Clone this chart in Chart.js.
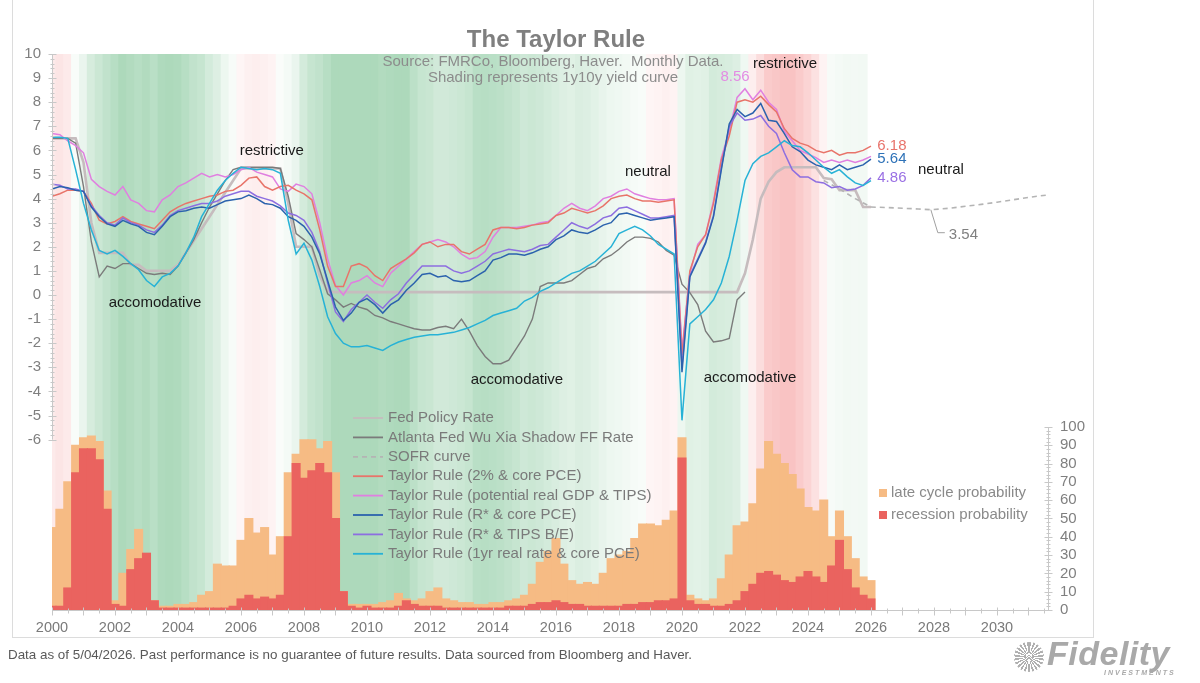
<!DOCTYPE html>
<html lang="en">
<head>
<meta charset="UTF-8">
<title>The Taylor Rule</title>
<script src="https://cdn.jsdelivr.net/npm/chart.js"></script>
<style>
  body { margin: 0; background: #fff; font-family: "Liberation Sans", Arial, sans-serif; }
  .wrap { position: relative; width: 1200px; height: 683px; overflow: hidden; }
  #chart { position: absolute; left: 0; top: 0; }
  .frame { position: absolute; left: 12px; top: -1px; width: 1080px; height: 637px; border: 1px solid #dcdcdc; pointer-events: none; }
  .footer { position: absolute; left: 8px; top: 647px; font-size: 13.4px; color: #595959; }
  .logo { position: absolute; left: 1014px; top: 638px; width: 180px; height: 42px; color: #a9a9a9; }
  .logo .sun { position: absolute; left: 0; top: 4px; width: 30px; height: 30px; border-radius: 50%;
    background: repeating-conic-gradient(#b0b0b0 0deg 8deg, #fff 8deg 16deg); }
  .logo .name { position: absolute; left: 33px; top: -4px; font: italic bold 34px "Liberation Sans", Arial, sans-serif; letter-spacing: 0.5px; }
  .logo .sub { position: absolute; left: 90px; top: 31px; font: italic bold 7px "Liberation Sans", Arial, sans-serif; letter-spacing: 2px; }
</style>
</head>
<body>
<div class="wrap">
  <canvas id="chart" width="1200" height="683"></canvas>
  <div class="frame"></div>
  <div class="footer">Data as of 5/04/2026. Past performance is no guarantee of future results. Data sourced from Bloomberg and Haver.</div>
  <div class="logo"><div class="sun"></div><div class="name">Fidelity</div><div class="sub">INVESTMENTS</div></div>
</div>
<script>
// quarterly observations, first one is Q1 2000
const startYear = 2000;
const stepYears = 0.25;

const fedPolicyRate = [
  6.5, 6.5, 6.5, 6.5,   5.5, 3.0, 1.75, 1.75,   1.75, 1.75, 1.25, 1.25,   1.0, 1.0, 1.0, 1.0,
  1.25, 1.75, 2.25, 2.75,   3.25, 3.75, 4.25, 4.75,   5.25, 5.25, 5.25, 5.25,   5.25, 5.25, 3.8, 2.0,
  2.0, 2.0, 0.8, 0.15,
  0.12, 0.12, 0.12, 0.12,   0.12, 0.12, 0.12, 0.12,   0.12, 0.12, 0.12, 0.12,   0.12, 0.12, 0.12, 0.12,
  0.12, 0.12, 0.12, 0.12,   0.12, 0.12, 0.12, 0.12,   0.12, 0.12, 0.12, 0.12,   0.12, 0.12, 0.12, 0.12,
  0.12, 0.12, 0.12, 0.12,   0.12, 0.12, 0.12, 0.12,   0.12, 0.12, 0.12, 0.12,   0.12, 0.12, 0.12, 0.12,
  0.12, 0.12, 0.12, 0.12,
  0.9, 2.3, 4.0, 4.7,   5.1, 5.3, 5.3, 5.3,   5.3, 5.3, 4.85, 4.8,   4.35, 4.35, 4.35, 3.65,
  3.65
];

const wuXiaShadowRate = [
  6.5, 6.5, 6.5, 6.3,   4.5, 2.2, 0.75, 1.2,   1.1, 1.3, 1.3, 1.1,   0.9, 0.85, 0.9, 0.85,
  1.2, 1.75, 2.3, 3.0,   3.65, 4.2, 4.75, 5.2,   5.3, 5.3, 5.3, 5.3,   5.3, 5.25, 4.1, 2.55,
  2.3, 2.0, 1.05, 0.05,   -0.2, -0.5, -0.35, -0.5,   -0.6, -0.85, -0.95, -1.1,   -1.2, -1.3, -1.4, -1.45,
  -1.45, -1.35, -1.3, -1.4,   -1.0, -1.5, -2.1, -2.55,   -2.85, -2.85, -2.7, -2.2,   -1.7, -1.0, 0.35, 0.5,
  0.5, 0.5, 0.6, 0.85,   1.1, 1.2, 1.5, 1.65,   1.9, 2.2, 2.4, 2.4,   2.35, 2.2, 1.85, 1.65,
  0.45, 0.1, -0.4, -1.5,   -1.95, -1.9, -1.8, -0.2,   0.12, null, null, null,
  null, null, null, null,   null, null, null, null,   null, null, null, null,
  null
];

const sofrYears = [2024.5, 2025.0, 2025.5, 2026.0, 2026.5, 2027.0, 2027.5, 2027.9, 2028.5, 2029.0, 2029.5, 2030.0, 2030.5, 2031.0, 2031.6];
const sofrCurve = [4.75, 4.4, 4.0, 3.65, 3.63, 3.6, 3.57, 3.54, 3.6, 3.68, 3.76, 3.85, 3.95, 4.05, 4.15];

const taylorCorePce = [
  4.1, 4.2, 4.35, 4.35,   4.3, 3.8, 3.1, 2.95,   3.05, 3.25, 3.05, 2.95,   2.85, 2.75, 3.1, 3.45,
  3.65, 3.8, 3.9, 4.0,   4.1, 4.15, 4.3, 4.35,   4.55, 4.85, 4.9, 4.5,   4.35, 4.5, 4.55, 4.35,
  4.2, 3.95, 2.7, 1.2,   0.35, 0.35, 1.2, 1.3,   1.15, 0.8, 0.6, 1.1,   1.3, 1.5, 1.75, 2.1,
  2.2, 2.0, 2.1, 2.1,   1.8, 1.7, 1.9, 2.1,   2.7, 2.8, 2.8, 2.75,   2.8, 2.9, 2.95, 3.0,
  3.3, 3.4, 3.6, 3.5,   3.4, 3.5, 3.7, 4.0,   4.1, 4.15, 4.0, 3.9,   3.9, 3.85, 3.9, 3.95,
  -2.5, 1.0, 2.0, 2.5,   3.8, 5.6, 6.6, 8.0,   8.1, 8.0, 8.25, 7.9,   7.6, 6.9, 6.5, 6.3,
  6.2, 6.0, 5.9, 6.0,   5.8, 5.9, 5.9, 6.0,   6.18
];

const taylorPotentialGdp = [
  6.7, 6.65, 6.4, 6.2,   5.9, 4.8, 4.5, 4.3,   4.15, 4.5, 3.95, 3.8,   3.5, 3.45, 3.95, 4.15,
  4.5, 4.65, 4.85, 5.05,   4.9, 5.0, 4.9, 5.0,   5.2, 5.3, 5.1, 5.0,   4.9, 4.4, 4.3, 4.6,
  4.5, 4.2, 3.0, 1.5,   0.4, 0.0, 0.5, 0.6,   0.8, 0.5, 0.35, 0.9,   1.2, 1.5, 1.8, 2.1,
  2.2, 2.3, 2.2, 2.0,   1.7, 1.5, 1.55, 1.8,   2.4, 2.8, 2.8, 2.8,   2.85, 2.9, 3.0, 3.05,
  3.3, 3.6, 3.8, 3.6,   3.5, 3.7, 4.0, 4.1,   4.3, 4.4, 4.2, 4.1,   4.0, 3.95, 3.95, 4.0,
  -2.3, 0.9, 2.1, 2.5,   3.9, 5.7, 6.8, 8.2,   8.56, 8.1, 8.5, 8.0,   7.7, 6.8, 6.4, 6.0,
  5.85, 5.7, 5.5, 5.6,   5.5, 5.6, 5.5, 5.6,   5.75
];

const taylorRStarCorePce = [
  4.4, 4.5, 4.45, 4.35,   4.3, 3.65, 3.25, 2.95,   2.85, 3.1, 2.95, 2.85,   2.6, 2.5, 2.85, 3.25,
  3.45, 3.5, 3.6, 3.65,   3.6, 3.75, 3.9, 3.95,   4.0, 4.15, 4.0, 3.8,   3.75, 3.6, 3.25, 3.1,
  2.85, 2.4, 1.7, 0.6,   -0.5, -1.05, -0.75, -0.3,   -0.15, -0.4, -0.75, -0.4,   -0.2, 0.2, 0.5, 0.85,
  0.9, 0.75, 0.8, 0.6,   0.55, 0.6, 0.8, 1.0,   1.45, 1.55, 1.7, 1.7,   1.65, 1.75, 1.9, 2.0,
  2.3, 2.45, 2.7, 2.6,   2.55, 2.7, 2.9, 3.0,   3.35, 3.4, 3.3, 3.2,   3.1, 3.15, 3.2, 3.25,
  -3.2, 0.75, 1.45, 2.15,   3.25, 5.2, 7.1, 7.7,   7.4, 7.55, 7.95, 7.25,   7.2, 6.7, 6.15, 5.95,
  5.6, 5.4, 5.3, 5.2,   5.4, 5.2, 5.3, 5.4,   5.64
];

const taylorRStarTips = [
  4.6, 4.55, 4.4, 4.4,   4.3, 3.7, 3.3, 3.0,   2.9, 3.2, 3.0, 2.9,   2.7, 2.6, 2.9, 3.3,
  3.5, 3.6, 3.7, 3.8,   3.8, 3.9, 4.1, 4.2,   4.3, 4.3, 4.1, 4.0,   3.9, 3.7, 3.4, 3.3,
  3.1, 2.6, 1.8, 0.5,   -0.7, -1.1, -0.6, -0.3,   0.0, -0.3, -0.55, -0.2,   0.05, 0.5, 0.85, 1.2,
  1.2, 1.2, 1.2, 1.0,   0.9, 1.0, 1.2, 1.4,   1.7, 1.8, 1.9, 1.85,   1.8, 1.9, 2.05, 2.1,
  2.4, 2.7, 3.0, 2.85,   2.75, 2.95, 3.2, 3.3,   3.6, 3.65, 3.5, 3.35,   3.2, 3.2, 3.25, 3.3,
  -3.0, 0.8, 1.5, 2.2,   3.3, 5.3, 7.0, 7.55,   7.25, 7.3, 7.45, 7.0,   6.7, 5.9, 5.2, 4.9,
  4.9, 4.7, 4.65, 4.45,   4.5, 4.35, 4.4, 4.55,   4.86
];

const taylorRealRate = [
  6.55, 6.55, 6.5, 5.2,   3.8, 2.7, 1.85, 1.7,   1.85, 1.6, 1.3, 1.05,   0.6, 0.35, 0.75, 0.9,
  1.2, 1.75, 2.4, 3.25,   3.8, 4.35, 4.75, 5.05,   5.3, 5.25, 5.2, 5.25,   5.2, 5.05, 3.1, 1.7,
  2.15, 1.45, 0.35, -0.9,   -1.6, -2.0, -2.15, -2.15,   -2.1, -2.2, -2.3, -2.1,   -1.95, -1.85, -1.75, -1.7,
  -1.65, -1.65, -1.6, -1.55,   -1.45, -1.35, -1.2, -1.05,   -0.85, -0.75, -0.65, -0.55,   -0.25, -0.1, 0.15, 0.3,
  0.5, 0.7, 0.9, 1.0,   1.2, 1.4, 1.7, 2.0,   2.55, 2.7, 2.85, 2.7,   2.45, 2.1, 1.9, 1.7,
  -5.2, -1.2, -0.9, -0.6,   -0.2, 0.5, 1.6, 3.1,   4.75, 5.45, 5.75, 5.9,   6.15, 6.4, 6.2, 6.15,
  5.9, 5.6, 5.3, 5.05,   5.2, 4.9, 4.65, 4.55,   4.75
];

// probabilities, right axis (%)
const lateCycleProb = [
  45, 55, 70, 90,   94, 95, 92, 65,   5, 20, 33, 44,   30, 5, 2, 2,
  3, 3, 4, 8,   10, 25, 24, 24,   38, 50, 42, 45,   30, 40, 75, 85,
  93, 93, 88, 92,   75, 10, 3, 3,   3, 3, 4, 5,   9, 6, 5, 6,
  10, 12, 6, 5,   4, 4, 3, 3,   4, 4, 5, 6,   8, 14, 26, 32,
  39, 25, 16, 14,   15, 14, 20, 28,   30, 32, 39, 47,   47, 46, 49, 54,
  94, 8, 6, 5,   6, 17, 30, 46,   48, 58, 77, 92,   85, 80, 74, 66,
  56, 54, 60, 40,   54, 40, 28, 18,   16
];

const recessionProb = [
  2, 2, 12, 75,   88, 88, 82, 55,   3, 2, 22, 28,   31, 5, 1, 1,
  1, 1, 1, 1,   1, 1, 1, 2,   6, 8, 6, 7,   6, 8, 40, 80,
  72, 76, 80, 75,   50, 10, 2, 1,   2, 1, 1, 1,   2, 5, 3, 2,
  2, 2, 1, 1,   1, 1, 1, 1,   1, 1, 2, 2,   2, 3, 4, 4,
  5, 4, 3, 3,   2, 2, 2, 2,   2, 3, 3, 4,   4, 5, 5, 6,
  83, 5, 3, 3,   2, 2, 3, 5,   10, 14, 20, 21,   19, 16, 15, 18,
  21, 18, 15, 24,   38, 22, 12, 8,   6
];

// 1y10y yield curve spread, drives the background shading
const curveSpread = [
  -0.3, -0.4, -0.3, 0.05,   0.6, 1.4, 1.8, 2.2,   2.6, 3.0, 2.8, 2.6,   2.8, 2.5, 2.9, 3.0,
  2.9, 2.6, 2.2, 2.0,   1.5, 1.1, 0.5, 0.1,   -0.05, -0.15, -0.2, -0.15,   -0.1, 0.0, 0.2, 0.6,
  1.5, 2.0, 2.2, 2.6,   3.0, 3.2, 3.3, 3.3,   3.4, 3.2, 2.8, 2.9,   3.1, 3.0, 2.4, 2.0,
  1.9, 1.6, 1.6, 1.7,   1.8, 2.0, 2.5, 2.6,   2.5, 2.4, 2.2, 2.0,   1.7, 1.8, 1.7, 1.5,
  1.3, 1.1, 1.0, 1.2,   1.1, 0.9, 0.7, 0.5,   0.4, 0.3, 0.15, 0.05,   -0.05, -0.1, -0.15, -0.1,
  0.5, 1.0, 0.9, 1.0,   1.5, 1.4, 1.3, 1.1,   0.4, -0.2, -0.6, -1.0,   -1.1, -1.3, -1.2, -1.0,
  -0.8, -0.5, -0.1, 0.1,   0.2, 0.3, 0.25, 0.3
];

const xTickYears = [2000, 2002, 2004, 2006, 2008, 2010, 2012, 2014, 2016, 2018, 2020, 2022, 2024, 2026, 2028, 2030];
const leftTicks = [-6, -5, -4, -3, -2, -1, 0, 1, 2, 3, 4, 5, 6, 7, 8, 9, 10];
const rightTicks = [0, 10, 20, 30, 40, 50, 60, 70, 80, 90, 100];

const FONT = '"Liberation Sans", Arial, sans-serif';
Chart.defaults.font.family = FONT;

const quarterOf = i => startYear + i * stepYears;
const toPoints = arr => arr.map((v, i) => ({ x: quarterOf(i), y: v }));

// tint blended onto white, kept opaque so neighbouring bars leave no seams
function tint(rgb, a) {
  return 'rgb(' + rgb.map(c => Math.round(255 - a * (255 - c))).join(',') + ')';
}
function curveColor(spread) {
  if (spread >= 0) return tint([72, 170, 104], Math.min(spread / 3, 1) * 0.42 + 0.03);
  return tint([238, 92, 92], Math.min(-spread / 1.2, 1) * 0.32 + 0.05);
}

function lineSet(label, data, color, width, order, extra) {
  return Object.assign({
    type: 'line', label: label, data: data, yAxisID: 'y',
    borderColor: color, borderWidth: width, pointRadius: 0, tension: 0, order: order
  }, extra || {});
}

const datasets = [
  lineSet('Fed Policy Rate', toPoints(fedPolicyRate), '#c6bcbe', 2.6, 4),
  lineSet('Atlanta Fed Wu Xia Shadow FF Rate', toPoints(wuXiaShadowRate), '#7b7b7b', 1.4, 3),
  lineSet('SOFR curve', sofrYears.map((t, i) => ({ x: t, y: sofrCurve[i] })), '#b4b4b4', 1.6, 3, { borderDash: [5, 4] }),
  lineSet('Taylor Rule (2% & core PCE)', toPoints(taylorCorePce), '#e8746a', 1.5, 2),
  lineSet('Taylor Rule (potential real GDP & TIPS)', toPoints(taylorPotentialGdp), '#e07fe0', 1.5, 2),
  lineSet('Taylor Rule (R* & core PCE)', toPoints(taylorRStarCorePce), '#2b62ad', 1.5, 1),
  lineSet('Taylor Rule (R* & TIPS B/E)', toPoints(taylorRStarTips), '#8d6ee0', 1.5, 1),
  lineSet('Taylor Rule (1yr real rate & core PCE)', toPoints(taylorRealRate), '#27b2d6', 1.5, 0),
  {
    type: 'bar', label: 'recession probability', data: toPoints(recessionProb), yAxisID: 'yp',
    backgroundColor: '#ea635f', borderWidth: 0, grouped: false, inflateAmount: 0.6,
    barPercentage: 1, categoryPercentage: 1, order: 5
  },
  {
    type: 'bar', label: 'late cycle probability', data: toPoints(lateCycleProb), yAxisID: 'yp',
    backgroundColor: '#f6bb84', borderWidth: 0, grouped: false, inflateAmount: 0.6,
    barPercentage: 1, categoryPercentage: 1, order: 6
  },
  {
    type: 'bar', label: '', data: curveSpread.map((s, i) => ({ x: quarterOf(i), y: 1 })),
    yAxisID: 'ys', backgroundColor: curveSpread.map(curveColor), borderWidth: 0, grouped: false,
    inflateAmount: 0.6, barPercentage: 1, categoryPercentage: 1, order: 10
  }
];

// hand drawn axis lines, minor ticks, texts and legends
const overlay = {
  id: 'overlay',
  afterDraw(chart) {
    const { ctx, chartArea } = chart;
    const x = chart.scales.x, y = chart.scales.y, yp = chart.scales.yp;
    const seg = (x1, y1, x2, y2) => { ctx.beginPath(); ctx.moveTo(x1, y1); ctx.lineTo(x2, y2); ctx.stroke(); };
    ctx.save();
    ctx.strokeStyle = '#c8c8c8';
    ctx.lineWidth = 1;

    const xl = chartArea.left + 0.5;
    seg(xl, y.getPixelForValue(10), xl, y.getPixelForValue(-6));
    for (let k = -30; k <= 50; k++) {
      const py = Math.round(y.getPixelForValue(k / 5)) + 0.5;
      const len = k % 5 === 0 ? 4 : 2;
      seg(xl - len, py, xl + len, py);
    }
    const xr = chartArea.right + 0.5;
    seg(xr, yp.getPixelForValue(0), xr, yp.getPixelForValue(100));
    for (let v = 0; v <= 100; v += 2) {
      const py = Math.round(yp.getPixelForValue(v)) + 0.5;
      const len = v % 10 === 0 ? 4 : 2;
      seg(xr - len, py, xr + len, py);
    }
    const yb = chartArea.bottom + 0.5;
    for (let t = 2000; t <= 2031.5; t += 0.5) {
      const px = Math.round(x.getPixelForValue(t)) + 0.5;
      const major = t % 1 === 0;
      seg(px, yb - (major ? 3 : 2), px, yb + (major ? 5 : 3));
    }

    // title block
    ctx.textAlign = 'center';
    ctx.textBaseline = 'alphabetic';
    ctx.fillStyle = '#7f7f7f';
    ctx.font = 'bold 24px ' + FONT;
    ctx.fillText('The Taylor Rule', 556, 47);
    ctx.fillStyle = '#8c8c8c';
    ctx.font = '15px ' + FONT;
    ctx.fillText('Source: FMRCo, Bloomberg, Haver.  Monthly Data.', 553, 66);
    ctx.fillText('Shading represents 1y10y yield curve', 553, 82);

    // regime annotations
    const notes = [
      ['restrictive', 2006.98, 6.0], ['accomodative', 2003.27, -0.33], ['neutral', 2018.92, 5.1],
      ['accomodative', 2014.76, -3.53], ['restrictive', 2023.27, 9.58], ['accomodative', 2022.16, -3.44],
      ['neutral', 2028.22, 5.19]
    ];
    ctx.fillStyle = '#1a1a1a';
    ctx.textBaseline = 'middle';
    notes.forEach(n => ctx.fillText(n[0], x.getPixelForValue(n[1]), y.getPixelForValue(n[2])));

    // value labels
    const last = arr => arr[arr.length - 1];
    ctx.textAlign = 'left';
    const endX = x.getPixelForValue(2026.2);
    [[taylorCorePce, '#e8736b'], [taylorRStarCorePce, '#2e72b8'], [taylorRStarTips, '#9a70e4']].forEach(s => {
      ctx.fillStyle = s[1];
      ctx.fillText(last(s[0]).toFixed(2), endX, y.getPixelForValue(last(s[0])));
    });
    const peak = Math.max(...taylorPotentialGdp);
    const peakT = quarterOf(taylorPotentialGdp.indexOf(peak));
    ctx.textAlign = 'center';
    ctx.fillStyle = '#e38be3';
    ctx.fillText(peak.toFixed(2), x.getPixelForValue(peakT) - 10, y.getPixelForValue(peak) - 12);

    const sofrMin = Math.min(...sofrCurve);
    const sofrMinT = sofrYears[sofrCurve.indexOf(sofrMin)];
    const mx = x.getPixelForValue(sofrMinT), my = y.getPixelForValue(sofrMin);
    ctx.strokeStyle = '#a0a0a0';
    ctx.beginPath(); ctx.moveTo(mx, my); ctx.lineTo(mx + 7, my + 23); ctx.lineTo(mx + 14, my + 23); ctx.stroke();
    ctx.textAlign = 'left';
    ctx.fillStyle = '#808080';
    ctx.fillText(sofrMin.toFixed(2), mx + 18, my + 25);

    // line legend
    ctx.font = '15px ' + FONT;
    chart.data.datasets.filter(d => d.type === 'line').forEach((d, i) => {
      const ly = 418 + i * 19.4;
      ctx.strokeStyle = d.borderColor;
      ctx.lineWidth = 1.8;
      ctx.setLineDash(d.borderDash || []);
      seg(353, ly, 383, ly);
      ctx.setLineDash([]);
      ctx.fillStyle = '#7a7a7a';
      ctx.fillText(d.label, 388, ly);
    });

    // bar legend
    [datasets[9], datasets[8]].forEach((d, i) => {
      const ly = 493 + i * 22;
      ctx.fillStyle = d.backgroundColor;
      ctx.fillRect(879, ly - 4, 8, 8);
      ctx.fillStyle = '#8a8a8a';
      ctx.fillText(d.label, 891, ly);
    });
    ctx.restore();
  }
};

const tickFont = { size: 15, family: FONT };

new Chart(document.getElementById('chart'), {
  data: { datasets: datasets },
  options: {
    responsive: false,
    animation: false,
    layout: { padding: { top: 54, left: 0, right: 0, bottom: 0 } },
    plugins: { legend: { display: false }, tooltip: { enabled: false } },
    scales: {
      x: {
        type: 'linear', min: 2000, max: 2031.62, offset: false,
        afterBuildTicks: s => { s.ticks = xTickYears.map(v => ({ value: v })); },
        afterFit: s => { s.height = 73; },
        ticks: { font: { size: 14.5, family: FONT }, color: '#7a7a7a', padding: 9, maxRotation: 0, autoSkip: false, callback: v => String(v) },
        grid: { display: false, drawTicks: false, offset: false },
        border: { display: true, color: '#c8c8c8' }
      },
      y: {
        position: 'left', min: -13.07, max: 10,
        afterBuildTicks: s => { s.ticks = leftTicks.map(v => ({ value: v })); },
        afterFit: s => { s.width = 52; },
        ticks: { font: tickFont, color: '#7f7f7f', padding: 11, callback: v => String(v) },
        grid: { display: false, drawTicks: false },
        border: { display: false }
      },
      yp: {
        position: 'right', min: 0, max: 303.8,
        afterBuildTicks: s => { s.ticks = rightTicks.map(v => ({ value: v })); },
        afterFit: s => { s.width = 152; },
        ticks: { font: tickFont, color: '#7f7f7f', padding: 12, callback: v => String(v) },
        grid: { display: false, drawTicks: false },
        border: { display: false }
      },
      ys: { display: false, min: 0, max: 1 }
    }
  },
  plugins: [overlay]
});
</script>
</body>
</html>
